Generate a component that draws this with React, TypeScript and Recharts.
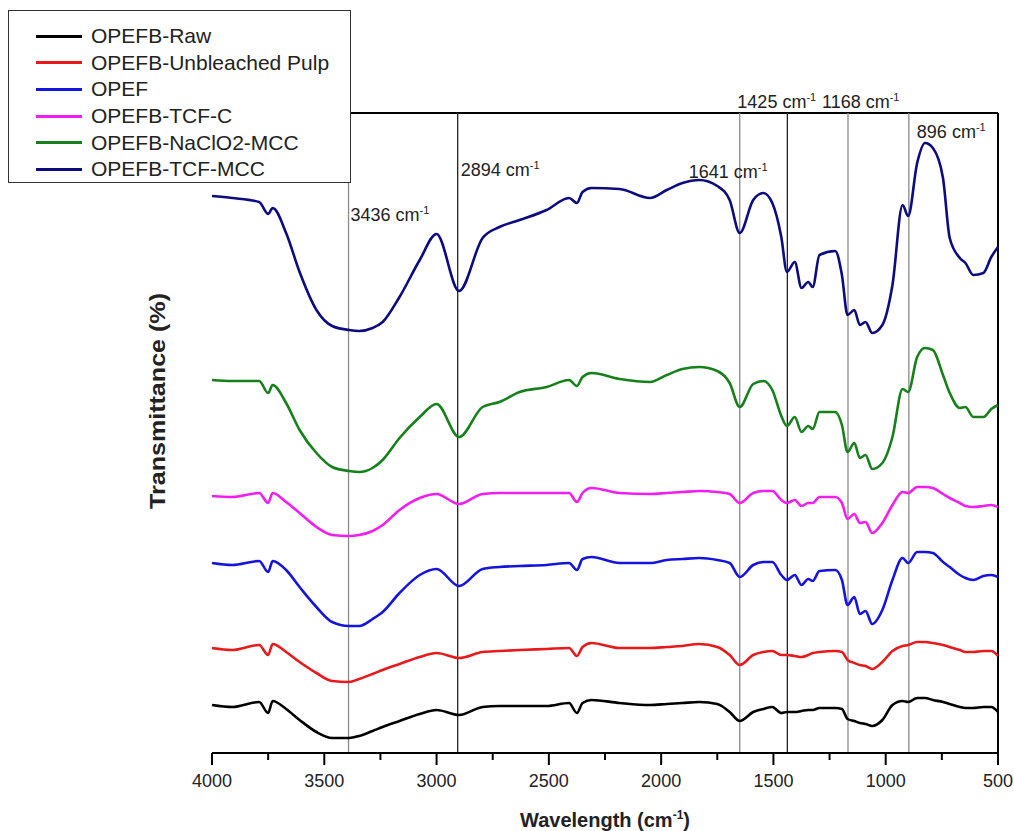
import { LineChart, Line, XAxis, YAxis, ReferenceLine, Label } from "recharts";

// wavenumber grid (cm-1)
const waves = [
  4000, 3910, 3790, 3750, 3730, 3670, 3610, 3535, 3465, 3390, 3345, 3285, 3240,
  3165, 3075, 3000, 2900, 2795, 2720, 2630, 2510, 2410, 2375, 2350, 2310, 2185,
  2050, 1975, 1905, 1830, 1750, 1695, 1650, 1590, 1545, 1505, 1465, 1440, 1405,
  1375, 1345, 1325, 1295, 1225, 1195, 1170, 1140, 1115, 1090, 1060, 1015, 970,
  925, 900, 860, 825, 790, 745, 715, 670, 645, 610, 565, 530, 500,
];

// transmittance, arbitrary units, curves already offset as in the figure
const raw = [
  48, 46, 51, 40, 52, 44, 33, 21, 15, 15, 17, 22, 26, 32, 39, 43, 38, 46, 47, 47, 47,
  50, 40, 50, 53, 50, 48, 49, 50, 51, 49, 41, 32, 41, 44, 46, 40, 41, 41, 42, 43,
  43, 45, 45, 44, 34, 32, 30, 29, 27, 33, 48, 52, 51, 55, 55, 53, 51, 49, 46, 45,
  45, 46, 46, 41,
];
const unbleached = [
  105, 103, 108, 98, 109, 101, 91, 80, 72, 71, 74, 79, 83, 89, 96, 100, 95, 101, 102, 103, 104,
  105, 97, 106, 110, 105, 105, 106, 107, 109, 106, 98, 88, 98, 101, 102, 98, 98, 97, 96, 98,
  100, 101, 102, 101, 93, 90, 88, 87, 84, 91, 102, 107, 108, 111, 111, 110, 108, 106, 103, 101,
  101, 102, 102, 97,
];
const opef = [
  190, 188, 192, 181, 192, 183, 166, 146, 131, 127, 127, 134, 141, 160, 178, 184, 167, 184, 186, 187, 188,
  190, 183, 194, 196, 190, 190, 193, 194, 195, 193, 190, 176, 188, 191, 191, 178, 173, 178, 168, 174,
  172, 182, 183, 173, 148, 156, 139, 142, 129, 143, 173, 195, 190, 201, 201, 200, 191, 186, 178, 175,
  173, 177, 178, 176,
];
const tcfC = [
  257, 256, 260, 250, 260, 251, 240, 226, 218, 217, 218, 222, 228, 243, 255, 259, 249, 259, 260, 260, 260,
  260, 251, 260, 265, 260, 259, 260, 261, 262, 261, 259, 250, 260, 262, 262, 253, 250, 253, 247, 250,
  250, 256, 256, 250, 234, 239, 230, 231, 220, 230, 248, 261, 260, 266, 266, 265, 259, 255, 250, 247,
  246, 247, 248, 246,
];
const naclo2Mcc = [
  373, 372, 372, 360, 368, 350, 323, 300, 286, 282, 281, 285, 293, 315, 336, 349, 316, 346, 351, 361, 366,
  373, 367, 376, 380, 374, 371, 378, 384, 386, 382, 370, 346, 369, 372, 363, 337, 327, 336, 321, 327,
  324, 341, 341, 328, 301, 310, 295, 298, 284, 290, 316, 364, 361, 396, 405, 403, 378, 360, 345, 346,
  336, 336, 344, 348,
];
const tcfMcc = [
  557, 555, 551, 539, 545, 520, 481, 443, 427, 423, 422, 425, 431, 456, 493, 519, 462, 515, 526, 533, 543,
  555, 550, 561, 565, 564, 555, 563, 570, 573, 567, 553, 520, 553, 560, 550, 516, 481, 491, 465, 471,
  466, 498, 502, 478, 438, 443, 428, 431, 420, 428, 468, 548, 537, 590, 610, 605, 575, 515, 495, 490,
  478, 480, 496, 506,
];

const seriesNames = [
  "OPEFB-Raw",
  "OPEFB-Unbleached Pulp",
  "OPEF",
  "OPEFB-TCF-C",
  "OPEFB-NaClO2-MCC",
  "OPEFB-TCF-MCC",
];
const seriesValues = [raw, unbleached, opef, tcfC, naclo2Mcc, tcfMcc];
const seriesColors = ["#000000", "#e8191b", "#1414dc", "#f01ef0", "#16801a", "#0c0c80"];

const xTicks = [4000, 3750, 3500, 3250, 3000, 2750, 2500, 2250, 2000, 1750, 1500, 1250, 1000, 750, 500];

// marked bands: where each line sits, and the text printed next to it
const peakWaves = [3392, 2906, 1650, 1438, 1168, 897];
const peakLabels = ["3436", "2894", "1641", "1425", "1168", "896"];
const peakDark = [false, true, false, true, false, false];

// label placement relative to each line (px)
const peakOffsets = [
  [2, 108],
  [3, 63],
  [-51, 65],
  [-50, -5],
  [-26, -5],
  [8, 25],
];

const data = waves.map((w, i) => {
  const row: Record<string, number> = { wave: w };
  seriesNames.forEach((name, s) => {
    row[name] = seriesValues[s][i];
  });
  return row;
});

const FONT = "'Liberation Sans', Arial, sans-serif";

const AxisTick = (props: any) => {
  const { x, y, payload } = props;
  const major = payload.value % 500 === 0;
  return (
    <g>
      <line x1={x} y1={y} x2={x} y2={y + (major ? 12 : 7)} stroke="#000" strokeWidth={2} />
      {major && (
        <text x={x} y={y + 34} textAnchor="middle" fontSize={18} fill="#222">
          {payload.value}
        </text>
      )}
    </g>
  );
};

// both axis titles, placed from the x axis box (plot left / axis top)
const AxisTitles = (props: any) => {
  const { x, y, width } = props.viewBox;
  const cx = x - 47;
  const cy = y - 352;
  return (
    <g>
      <text x={x + width / 2} y={y + 74} textAnchor="middle" fontSize={20} fontWeight="bold" fill="#222">
        Wavelength (cm
        <tspan dy={-8} fontSize={12}>-1</tspan>
        <tspan dy={8}>)</tspan>
      </text>
      <text
        x={cx}
        y={cy}
        transform={`rotate(-90 ${cx} ${cy})`}
        textAnchor="middle"
        fontSize={22}
        fontWeight="bold"
        fill="#222"
        textLength={216}
        lengthAdjust="spacingAndGlyphs"
      >
        Transmittance (%)
      </text>
    </g>
  );
};

const peakLabel = (i: number) => (props: any) => {
  const { x, y } = props.viewBox;
  const [dx, dy] = peakOffsets[i];
  return (
    <text x={x + dx} y={y + dy} fontSize={18} fill="#222">
      {peakLabels[i]} cm
      <tspan dy={-7} fontSize={11}>-1</tspan>
    </text>
  );
};

const LegendBox = () => (
  <div
    style={{
      position: "absolute",
      left: 8,
      top: 10,
      width: 343,
      height: 173,
      boxSizing: "border-box",
      border: "1.5px solid #333",
      background: "#fff",
      paddingTop: 12,
      fontFamily: FONT,
      fontSize: 21,
      color: "#222",
      overflow: "hidden",
    }}
  >
    {seriesNames.map((name, i) => (
      <div key={name} style={{ display: "flex", alignItems: "center", height: 26.6, paddingLeft: 27 }}>
        <span style={{ display: "inline-block", width: 46, height: 3, background: seriesColors[i], marginRight: 9 }} />
        <span style={{ whiteSpace: "nowrap" }}>{name}</span>
      </div>
    ))}
  </div>
);

export default function App() {
  return (
    <div style={{ position: "absolute", left: 0, top: 0, width: 1014, height: 831, background: "#fff" }}>
      <LineChart
        width={1014}
        height={831}
        data={data}
        margin={{ top: 113, right: 16, bottom: 8, left: 212 }}
        style={{ fontFamily: FONT }}
      >
        <XAxis
          dataKey="wave"
          type="number"
          domain={[500, 4000]}
          reversed
          ticks={xTicks}
          interval={0}
          tickSize={0}
          tickMargin={0}
          tickLine={false}
          tick={<AxisTick />}
          axisLine={{ stroke: "#000", strokeWidth: 2 }}
          height={70}
        >
          <Label content={AxisTitles} />
        </XAxis>
        <YAxis
          type="number"
          domain={[0, 640]}
          width={0}
          tick={false}
          tickLine={false}
          axisLine={{ stroke: "#000", strokeWidth: 2 }}
        />
        <ReferenceLine y={640} stroke="#000" strokeWidth={2} />
        <ReferenceLine x={500} stroke="#000" strokeWidth={2} />
        {peakWaves.map((w, i) => (
          <ReferenceLine
            key={w}
            x={w}
            stroke={peakDark[i] ? "#222" : "#8a8a8a"}
            strokeWidth={1.3}
            label={peakLabel(i)}
          />
        ))}
        {seriesNames.map((name, i) => (
          <Line
            key={name}
            dataKey={name}
            type="monotone"
            stroke={seriesColors[i]}
            strokeWidth={2.6}
            dot={false}
            activeDot={false}
            isAnimationActive={false}
          />
        ))}
      </LineChart>
      <LegendBox />
    </div>
  );
}
